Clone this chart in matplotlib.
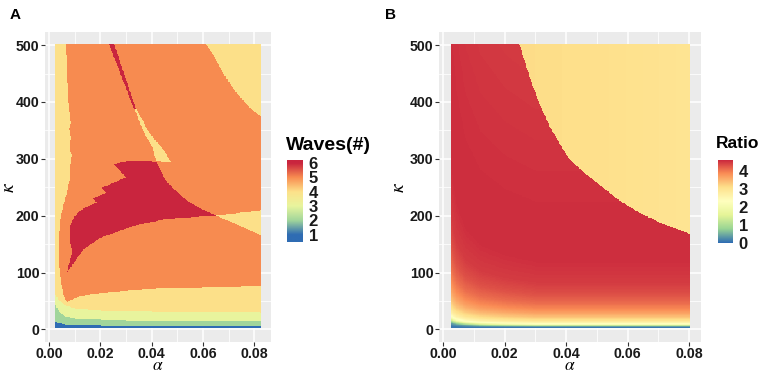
import numpy as np
import matplotlib
matplotlib.use("Agg")
import matplotlib.pyplot as plt
from matplotlib.colors import LinearSegmentedColormap, Normalize
from matplotlib.path import Path

plt.rcParams['font.family'] = ['Liberation Sans', 'DejaVu Sans']
plt.rcParams['mathtext.fontset'] = 'stix'

# parameter scan grid
alpha_a = np.arange(0.0025, 0.08251, 0.00025)
alpha_b = np.arange(0.0025, 0.08001, 0.00025)
kappa = np.arange(2, 501, 1.0)

# ---- panel A: outlines of the wave-number regions, (alpha, kappa) ----
orange5 = [(0.0065, 510), (0.0070, 450), (0.0077, 400), (0.0080, 380), (0.0086, 362),
           (0.0079, 352), (0.0087, 335), (0.0080, 322), (0.0088, 305), (0.0084, 285),
           (0.0080, 260), (0.0070, 240), (0.0055, 215), (0.0045, 193), (0.0040, 150),
           (0.0041, 120), (0.0044, 95), (0.0052, 70), (0.0060, 55), (0.0069, 47),
           (0.0123, 58), (0.0250, 65), (0.0445, 72), (0.0900, 75), (0.0900, 374),
           (0.0825, 374), (0.0790, 385), (0.0760, 400), (0.0730, 415), (0.0703, 433),
           (0.0680, 448), (0.0660, 465), (0.0635, 485), (0.0613, 500), (0.0610, 510)]
red6 = [(0.0252, 290), (0.0300, 294), (0.0380, 295), (0.0420, 293), (0.0435, 278),
        (0.0458, 259), (0.0500, 240), (0.0536, 226), (0.0587, 212), (0.0652, 199),
        (0.0587, 197), (0.0458, 193), (0.0329, 181), (0.0200, 160), (0.0136, 140),
        (0.0100, 118), (0.0071, 99), (0.0085, 125), (0.0090, 135), (0.0082, 158),
        (0.0084, 181), (0.0097, 196), (0.0123, 208), (0.0142, 213), (0.0185, 222),
        (0.0172, 229), (0.0223, 239), (0.0207, 248), (0.0300, 266)]
red6_sliver = [(0.0226, 510), (0.0247, 510), (0.0342, 382), (0.0330, 388)]
yellow4_sliver = [(0.0330, 390), (0.0368, 347), (0.0404, 318), (0.0418, 295),
                  (0.0475, 292), (0.0448, 314), (0.0390, 345), (0.0345, 383)]
yellow4_wedge = [(0.0652, 199), (0.0900, 212), (0.0900, 150)]
# bottom bands: kappa of the band edges along alpha
band_alpha = [0.0025, 0.004, 0.006, 0.01, 0.02, 0.04, 0.0825]
edge_1_2 = [12, 10, 8, 7, 6, 5, 4]
edge_2_3 = [42, 30, 22, 18, 16, 14, 13]
edge_3_4 = [60, 50, 42, 36, 32, 30, 29]

# ---- panel B: ratio ----
bnd_alpha = [0.0247, 0.0275, 0.0308, 0.0350, 0.0406, 0.0460, 0.0519, 0.0570, 0.0640,
             0.0710, 0.0800]
bnd_kappa = [500, 450, 400, 350, 300, 273, 248, 226, 203, 185, 167]
prof_kappa = [2, 4, 6, 8, 11, 15, 20, 27, 35, 45, 60, 80, 120, 200, 350, 500]
prof_ratio = [0.1, 0.4, 1.2, 2.1, 2.6, 3.0, 3.3, 3.6, 3.85, 4.05, 4.25, 4.4, 4.5, 4.5, 4.45, 4.4]
stretch_alpha = [0.0025, 0.004, 0.007, 0.012, 0.02, 0.03, 0.08]
stretch = [2.4, 1.9, 1.5, 1.25, 1.1, 1.0, 1.0]
yellow_alpha = [0.025, 0.05, 0.08]
yellow_ratio = [3.1, 3.05, 2.95]

W, H = 765, 373


def frac(x0, y0, x1, y1):
    return [x0 / W, 1 - y1 / H, (x1 - x0) / W, (y1 - y0) / H]


def inside(poly, AA, KK):
    pts = np.column_stack([AA.ravel(), KK.ravel()])
    return Path(poly).contains_points(pts).reshape(AA.shape)


# waves grid
AA, KK = np.meshgrid(alpha_a, kappa)
waves = np.full(AA.shape, 4.0)
waves[inside(orange5, AA, KK)] = 5
waves[inside(red6, AA, KK)] = 6
waves[inside(red6_sliver, AA, KK)] = 6
waves[inside(yellow4_sliver, AA, KK)] = 4
waves[inside(yellow4_wedge, AA, KK)] = 4
waves[KK < np.interp(AA, band_alpha, edge_3_4)] = 3
waves[KK < np.interp(AA, band_alpha, edge_2_3)] = 2
waves[KK < np.interp(AA, band_alpha, edge_1_2)] = 1

# ratio grid
BA, BK = np.meshgrid(alpha_b, kappa)
k_eff = BK / np.interp(BA, stretch_alpha, stretch)
ratio = np.interp(k_eff, prof_kappa, prof_ratio)
upper = BK > np.interp(BA, bnd_alpha, bnd_kappa, left=np.inf)
ratio[upper] = np.interp(BA, yellow_alpha, yellow_ratio)[upper]

# colour scales
lim_a = (0.5, 6.2)
anchors_a = [(1, '#2F6CB3'), (2, '#A2D69B'), (3, '#E8F59E'), (4, '#FDE18A'),
             (5, '#F88D51'), (6, '#C9253E')]
pts_a = [(lim_a[0], anchors_a[0][1])] + anchors_a + [(lim_a[1], anchors_a[-1][1])]
cmap_a = LinearSegmentedColormap.from_list(
    'waves', [((v - lim_a[0]) / (lim_a[1] - lim_a[0]), c) for v, c in pts_a])
norm_a = Normalize(*lim_a)

lim_b = (0.0, 4.6)
cols_b = ['#2F6CB3', '#99D594', '#E6F598', '#FFFFBF', '#FEE08B', '#FA8C55', '#C8223C']
cmap_b = LinearSegmentedColormap.from_list('ratio', cols_b)
norm_b = Normalize(*lim_b)

fig = plt.figure(figsize=(W / 100, H / 100), dpi=100)


def style(ax, xlim, cx, ky):
    ax.set_facecolor('#EBEBEB')
    for s in ax.spines.values():
        s.set_visible(False)
    ax.set_xlim(*xlim)
    ax.set_ylim(-22, 523)
    ax.set_xticks([0, 0.02, 0.04, 0.06, 0.08])
    ax.set_xticklabels(['0.00', '0.02', '0.04', '0.06', '0.08'])
    ax.set_xticks([0.01, 0.03, 0.05, 0.07], minor=True)
    ax.set_yticks([0, 100, 200, 300, 400, 500])
    ax.set_yticks([50, 150, 250, 350, 450], minor=True)
    ax.grid(which='major', color='white', lw=1.1)
    ax.grid(which='minor', color='white', lw=0.55)
    ax.set_axisbelow(True)
    ax.tick_params(which='major', length=2.75, width=0.8, color='#333333', pad=1.2,
                   labelsize=10.2, labelcolor='#1A1A1A')
    ax.tick_params(which='minor', length=0)
    for lab in ax.get_xticklabels() + ax.get_yticklabels():
        lab.set_fontweight('bold')
    fig.text(cx / W, 1 - 366 / H, r'$\alpha$', fontsize=12.5,
             ha='center', va='center')
    fig.text(ky / W, 1 - 187 / H, r'$\kappa$', fontsize=14,
             ha='center', va='center', rotation=90)


def colorbar(box, cmap, norm, lim, breaks, title, tx, ty, tsize):
    cax = fig.add_axes(frac(*box))
    cax.imshow(np.linspace(lim[0], lim[1], 300)[:, None], aspect='auto', origin='lower',
               extent=[0, 1, lim[0], lim[1]], cmap=cmap, norm=norm)
    for s in cax.spines.values():
        s.set_visible(False)
    cax.set_xticks([])
    cax.yaxis.tick_right()
    cax.set_yticks(breaks)
    cax.set_yticklabels([str(b) for b in breaks], fontsize=12, fontweight='bold',
                        color='#1A1A1A')
    cax.tick_params(axis='y', length=0, pad=4)
    fig.text(tx / W, 1 - ty / H, title, fontsize=tsize, fontweight='bold',
             ha='left', va='center')


axA = fig.add_axes(frac(45, 32, 271, 342))
axA.imshow(waves, origin='lower', aspect='auto', interpolation='nearest',
           cmap=cmap_a, norm=norm_a,
           extent=[alpha_a[0], alpha_a[-1], kappa[0], kappa[-1]], zorder=2)
style(axA, (-0.0015, 0.0865), 158, 9)

axB = fig.add_axes(frac(439, 32, 701, 342))
axB.imshow(ratio, origin='lower', aspect='auto', interpolation='nearest',
           cmap=cmap_b, norm=norm_b,
           extent=[alpha_b[0], alpha_b[-1], kappa[0], kappa[-1]], zorder=2)
style(axB, (-0.0014, 0.0839), 570, 399)

colorbar((287, 160, 303, 242), cmap_a, norm_a, lim_a, [1, 2, 3, 4, 5, 6],
         'Waves(#)', 286, 145, 14)
colorbar((718, 160, 733, 243), cmap_b, norm_b, lim_b, [0, 1, 2, 3, 4],
         'Ratio', 716, 143, 12.5)

fig.text(15.5 / W, 1 - 15 / H, 'A', fontsize=11, fontweight='bold', ha='center', va='center')
fig.text(391 / W, 1 - 15 / H, 'B', fontsize=11, fontweight='bold', ha='center', va='center')

fig.savefig('out.png', dpi=100)
